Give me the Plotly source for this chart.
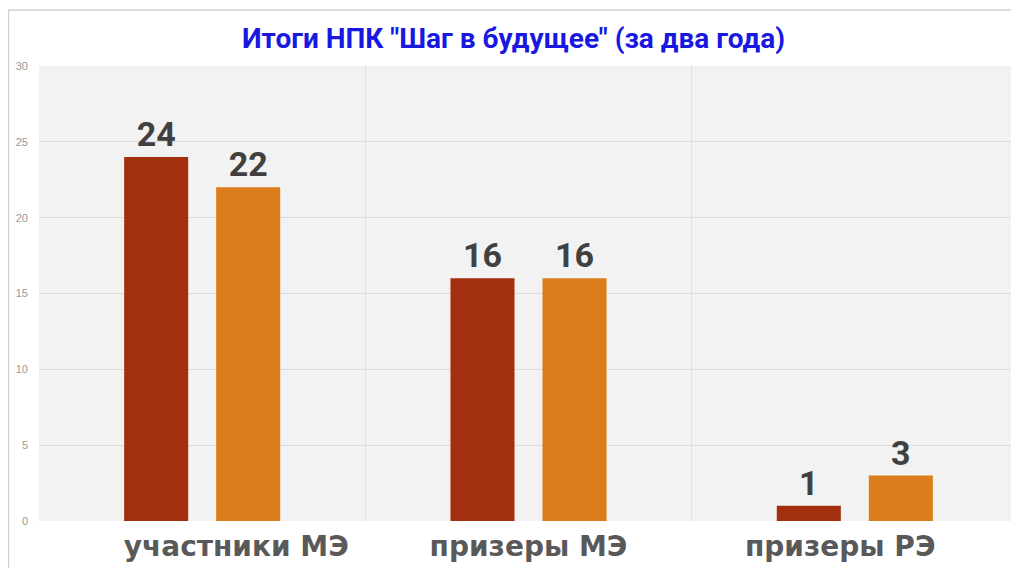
import plotly.graph_objects as go

categories = ["участники МЭ", "призеры МЭ", "призеры РЭ"]
series_names = ["1-й год", "2-й год"]
year1 = [24, 16, 1]
year2 = [22, 16, 3]
y_ticks = [0, 5, 10, 15, 20, 25, 30]
title_text = 'Итоги НПК "Шаг в будущее" (за два года)'

colors = ["#A2300E", "#DB7D1A"]

# labels in the reference sit slightly off-centre; pad with non-breaking spaces
NB = "\u00a0"
tick_text = [NB * 7 + categories[0], categories[1], categories[2] + NB * 3]

fig = go.Figure()
for name, vals, col in zip(series_names, [year1, year2], colors):
    fig.add_trace(go.Bar(
        x=categories, y=vals, name=name,
        marker=dict(color=col, line=dict(width=0)),
        text=["<b>%d</b>" % v for v in vals], textposition="outside",
        textfont=dict(family="Roboto", size=34, color="#404040"),
        cliponaxis=False,
    ))

W, H = 1011, 560
fig.update_layout(
    width=W, height=H,
    margin=dict(l=31, r=1, t=58, b=47),
    paper_bgcolor="white",
    plot_bgcolor="#f2f2f2",
    showlegend=False,
    barmode="group",
    bargap=0.436,
    bargroupgap=0.304,
    title=dict(text="<b>" + title_text + "</b>", x=0.5, xanchor="center",
               y=0.946, yanchor="middle",
               font=dict(family="Roboto", size=28, color="#1818E0")),
    font=dict(family="DejaVu Sans"),
)
fig.update_xaxes(
    tickson="boundaries", showgrid=True, gridcolor="#e0e0e0", gridwidth=1,
    ticks="", showline=False, zeroline=False, ticklabelstandoff=6,
    tickvals=categories, ticktext=tick_text,
    tickfont=dict(family="DejaVu Sans", size=28, color="#595959", weight="bold"),
)
fig.update_yaxes(
    range=[0, 30], tickvals=y_ticks, showgrid=True, gridcolor="#dcdcdc", gridwidth=1,
    zeroline=False, ticks="", showline=False, ticklabelstandoff=10,
    tickfont=dict(family="Liberation Sans", size=11, color="#999999"),
)
# outer frame
fig.add_shape(type="rect", xref="paper", yref="paper",
              x0=-0.0312, x1=1.05, y0=-0.2, y1=1.123,
              line=dict(color="#d0d0d0", width=1.5), fillcolor="rgba(0,0,0,0)", layer="below")

fig.write_html("out.html")
